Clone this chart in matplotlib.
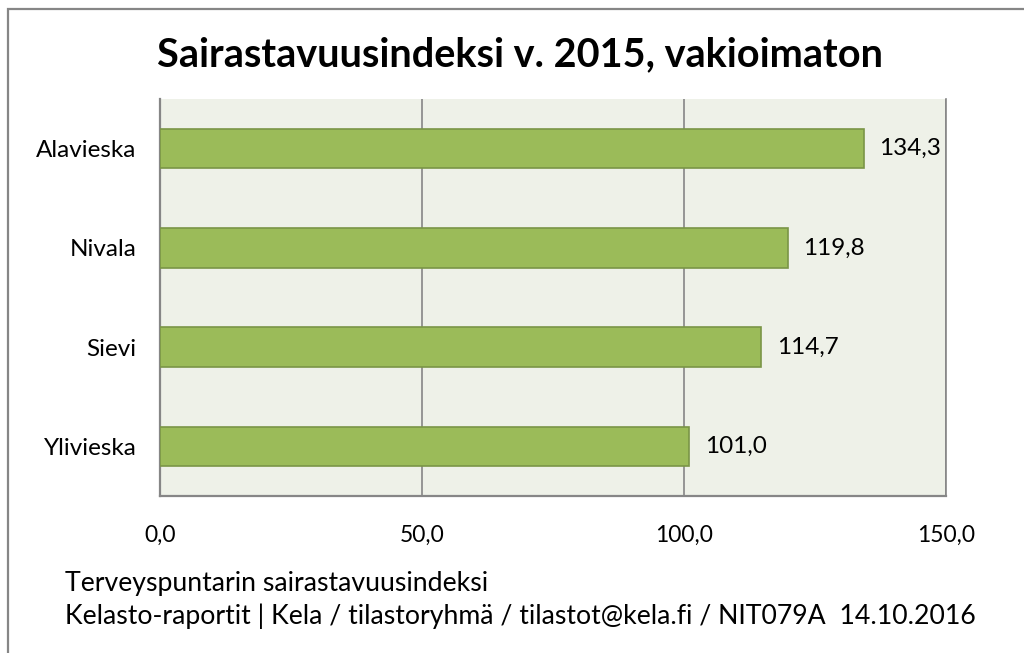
import matplotlib
matplotlib.use("Agg")
import matplotlib.pyplot as plt
from matplotlib.patches import Rectangle

categories = ["Alavieska", "Nivala", "Sievi", "Ylivieska"]
values = [134.3, 119.8, 114.7, 101.0]
xticks = [0, 50, 100, 150]
xtick_labels = ["0,0", "50,0", "100,0", "150,0"]
title = "Sairastavuusindeksi v. 2015, vakioimaton"
footer1 = "Terveyspuntarin sairastavuusindeksi"
footer2 = "Kelasto-raportit | Kela / tilastoryhmä / tilastot@kela.fi / NIT079A  14.10.2016"

plt.rcParams['font.family'] = ['Lato', 'DejaVu Sans']

W, H = 1024, 653
fig = plt.figure(figsize=(W / 100, H / 100), dpi=100)
fig.patch.set_facecolor("white")

# outer frame
fig.add_artist(Rectangle((8 / W, -0.1), 1.2, 1 - 9 / H + 0.1, transform=fig.transFigure,
                         fill=False, edgecolor="#868686", linewidth=1.6))

left, right, top, bottom = 160, 946, 99, 496
ax = fig.add_axes([left / W, 1 - bottom / H, (right - left) / W, (bottom - top) / H])
ax.set_facecolor("#EEF1E8")

ypos = list(range(len(categories)))
ax.barh(ypos, values, height=0.4, color="#9BBB59", edgecolor="#7A9546", linewidth=1.2, zorder=3)
ax.set_ylim(len(categories) - 0.5, -0.5)
ax.set_xlim(0, 150)
ax.set_xticks(xticks)
ax.set_xticklabels(xtick_labels, fontsize=16.5)
ax.set_yticks(ypos)
ax.set_yticklabels(categories, fontsize=17.5)
ax.tick_params(axis="x", length=0, pad=21)
ax.tick_params(axis="y", length=0, pad=17)
ax.xaxis.grid(True, color="#868686", linewidth=1.2, zorder=1)
ax.set_axisbelow(True)
ax.spines["top"].set_visible(False)
ax.spines["right"].set_color("#868686")
ax.spines["right"].set_linewidth(1.2)
for s in ["left", "bottom"]:
    ax.spines[s].set_color("#868686")
    ax.spines[s].set_linewidth(1.6)

for y, v in zip(ypos, values):
    ax.text(v + 3, y, f"{v:.1f}".replace(".", ","), va="center", ha="left", fontsize=17.5, zorder=4)

fig.text(520 / W, 1 - 55 / H, title, ha="center", va="center", fontsize=28.5, fontweight="bold")
fig.text(65 / W, 1 - 584 / H, footer1, ha="left", va="center", fontsize=19.2)
fig.text(65 / W, 1 - 616 / H, footer2, ha="left", va="center", fontsize=19.2)

fig.savefig("out.png", dpi=100, facecolor="white")
